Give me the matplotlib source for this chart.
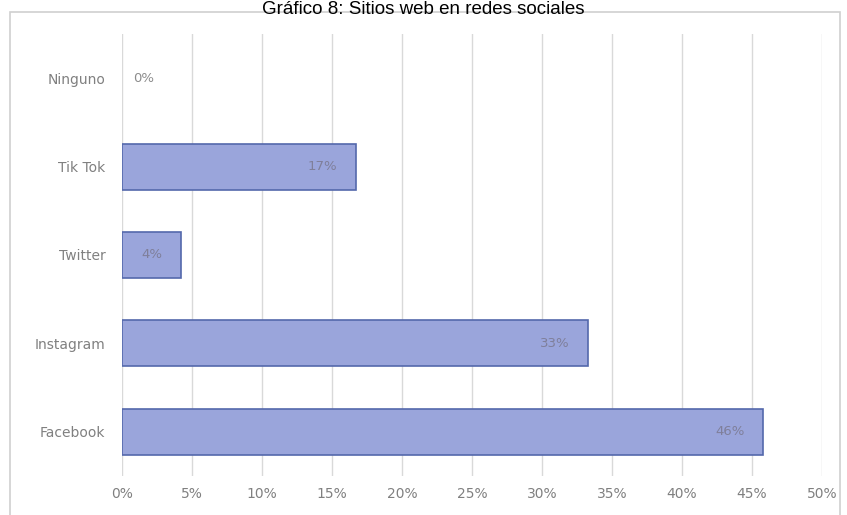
import matplotlib.pyplot as plt
from matplotlib.patches import Rectangle

categorias = ["Facebook", "Instagram", "Twitter", "Tik Tok", "Ninguno"]
valores = [45.8, 33.3, 4.2, 16.7, 0]
etiquetas = ["46%", "33%", "4%", "17%", "0%"]
ticks = [0, 5, 10, 15, 20, 25, 30, 35, 40, 45, 50]

fig = plt.figure(figsize=(8.47, 5.15), dpi=100)
ax = fig.add_axes([122 / 847, 1 - 476 / 515, 700 / 847, 442 / 515])

# marco exterior del grafico
fig.patches.append(Rectangle((10 / 847, -0.01), 830 / 847, 1 - 12 / 515 + 0.01,
                             transform=fig.transFigure, fill=False,
                             edgecolor="#d0d0d0", linewidth=1.2))

pos = range(len(categorias))
for i, v in enumerate(valores):
    if v > 0:
        ax.barh(i, v, height=0.52, color="#9aa5db", edgecolor="#5468ac", linewidth=1.2, zorder=3)

for i, v in enumerate(valores):
    if v > 0:
        ax.text(v - 1.3, i, etiquetas[i], ha="right", va="center", fontsize=9.5, color="#7f7f9a", zorder=4)
    else:
        ax.text(0.8, i, etiquetas[i], ha="left", va="center", fontsize=9.5, color="#8c8c8c", zorder=4)

ax.set_xlim(0, 50)
ax.set_ylim(-0.5, 4.5)
ax.set_xticks(ticks)
ax.set_xticklabels([f"{t}%" for t in ticks])
ax.set_yticks(list(pos))
ax.set_yticklabels(categorias)
ax.tick_params(axis="both", length=0, labelsize=10, labelcolor="#808080")
ax.tick_params(axis="x", pad=8)
ax.tick_params(axis="y", pad=12)
ax.grid(axis="x", color="#d9d9d9", linewidth=1, zorder=0)
for s in ax.spines.values():
    s.set_visible(False)

fig.text(0.5, 1 - 14 / 515, "Gráfico 8: Sitios web en redes sociales", ha="center", va="baseline",
         fontsize=13.5, family="Liberation Sans", color="#000000")

fig.savefig("out.png", dpi=100)
